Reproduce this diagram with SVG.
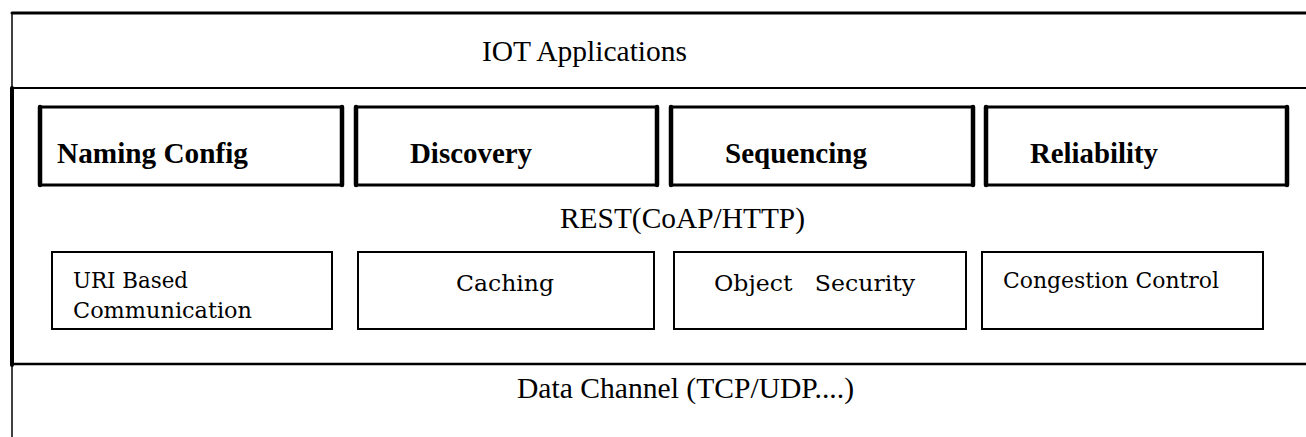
<svg xmlns="http://www.w3.org/2000/svg" width="1306" height="437" viewBox="0 0 1306 437">
<style>
  .tnr { font-family: "Liberation Serif", "Times New Roman", serif; font-size: 29px; fill: #000; }
  .tnrb { font-family: "Liberation Serif", "Times New Roman", serif; font-size: 29px; font-weight: bold; fill: #000; }
  .cam { font-family: "DejaVu Serif", "Liberation Serif", serif; font-size: 23px; fill: #000; }
  .hl { stroke: #000; stroke-linecap: round; fill: none; }
  .box { fill: #fff; stroke: #000; stroke-width: 2; }
  .tb-h { stroke: #000; stroke-width: 3; stroke-linecap: round; }
  .tb-v { stroke: #000; stroke-width: 4.5; stroke-linecap: round; }
</style>
<rect width="1306" height="437" fill="#fff"/>

<g id="frame">
  <line class="hl" x1="12" y1="13" x2="1306" y2="13" stroke-width="3"/>
  <line class="hl" x1="12" y1="13" x2="12" y2="88" stroke-width="1.5"/>
  <line class="hl" x1="12" y1="88" x2="1306" y2="88" stroke-width="2" stroke="#222"/>
  <line class="hl" x1="12" y1="88" x2="12" y2="365" stroke-width="4"/>
  <line class="hl" x1="12" y1="364" x2="1306" y2="364" stroke-width="2.5" stroke="#333"/>
  <line class="hl" x1="12" y1="365" x2="12" y2="437" stroke-width="1.5"/>
</g>

<g id="iot-applications">
  <text class="tnr" x="482" y="61" textLength="205" lengthAdjust="spacingAndGlyphs">IOT Applications</text>
</g>

<g id="naming-config">
  <line class="tb-h" x1="40" y1="107" x2="342" y2="107"/>
  <line class="tb-h" x1="40" y1="185" x2="342" y2="185"/>
  <line class="tb-v" x1="40" y1="107" x2="40" y2="185"/>
  <line class="tb-v" x1="342" y1="107" x2="342" y2="185"/>
  <text class="tnrb" x="57" y="163" textLength="191" lengthAdjust="spacingAndGlyphs">Naming Config</text>
</g>

<g id="discovery">
  <line class="tb-h" x1="356" y1="107" x2="657" y2="107"/>
  <line class="tb-h" x1="356" y1="185" x2="657" y2="185"/>
  <line class="tb-v" x1="356" y1="107" x2="356" y2="185"/>
  <line class="tb-v" x1="657" y1="107" x2="657" y2="185"/>
  <text class="tnrb" x="410" y="163" textLength="122" lengthAdjust="spacingAndGlyphs">Discovery</text>
</g>

<g id="sequencing">
  <line class="tb-h" x1="671" y1="107" x2="973" y2="107"/>
  <line class="tb-h" x1="671" y1="185" x2="973" y2="185"/>
  <line class="tb-v" x1="671" y1="107" x2="671" y2="185"/>
  <line class="tb-v" x1="973" y1="107" x2="973" y2="185"/>
  <text class="tnrb" x="725" y="163" textLength="142" lengthAdjust="spacingAndGlyphs">Sequencing</text>
</g>

<g id="reliability">
  <line class="tb-h" x1="986" y1="107" x2="1287" y2="107"/>
  <line class="tb-h" x1="986" y1="185" x2="1287" y2="185"/>
  <line class="tb-v" x1="986" y1="107" x2="986" y2="185"/>
  <line class="tb-v" x1="1287" y1="107" x2="1287" y2="185"/>
  <text class="tnrb" x="1030" y="163" textLength="128" lengthAdjust="spacingAndGlyphs">Reliability</text>
</g>

<g id="rest">
  <text class="tnr" x="560" y="228" textLength="245" lengthAdjust="spacingAndGlyphs">REST(CoAP/HTTP)</text>
</g>

<g id="uri-based">
  <rect class="box" x="52" y="252" width="280" height="77"/>
  <text class="cam" x="73" y="288" textLength="115" lengthAdjust="spacingAndGlyphs">URI Based</text>
  <text class="cam" x="73" y="318" textLength="179" lengthAdjust="spacingAndGlyphs">Communication</text>
</g>

<g id="caching">
  <rect class="box" x="358" y="252" width="296" height="77"/>
  <text class="cam" x="456" y="291" textLength="98" lengthAdjust="spacingAndGlyphs">Caching</text>
</g>

<g id="object-security">
  <rect class="box" x="674" y="252" width="292" height="77"/>
  <text class="cam" x="714" y="291" textLength="201" lengthAdjust="spacingAndGlyphs" xml:space="preserve">Object   Security</text>
</g>

<g id="congestion-control">
  <rect class="box" x="982" y="252" width="281" height="77"/>
  <text class="cam" x="1003" y="288" textLength="216" lengthAdjust="spacingAndGlyphs">Congestion Control</text>
</g>

<g id="data-channel">
  <text class="tnr" x="517" y="398" textLength="337" lengthAdjust="spacingAndGlyphs">Data Channel (TCP/UDP....)</text>
</g>

<g id="connectors"></g>
</svg>
